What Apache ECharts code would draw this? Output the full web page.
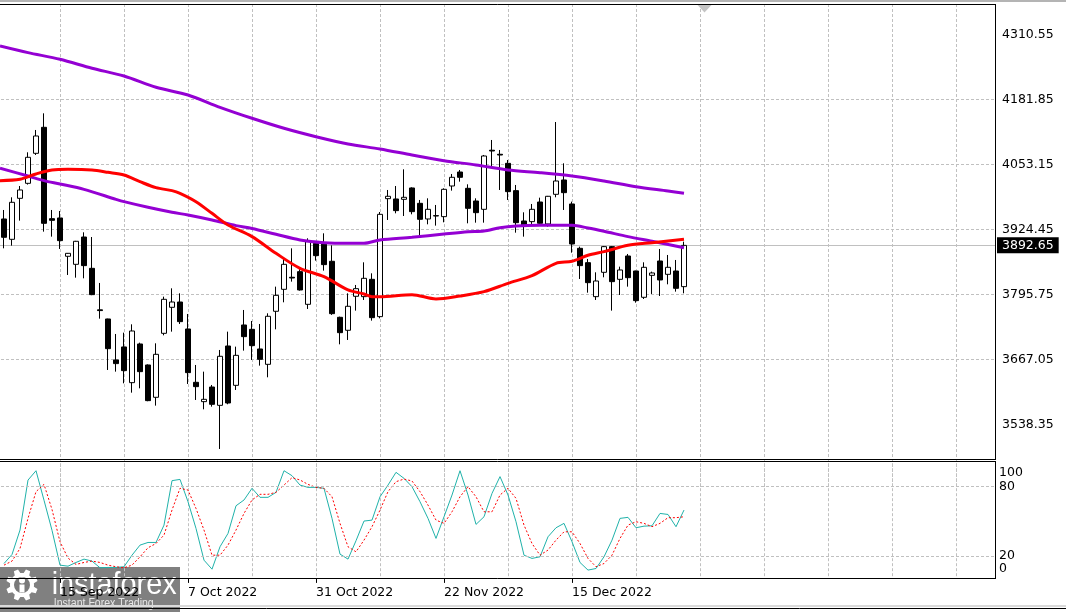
<!DOCTYPE html>
<html><head><meta charset="utf-8">
<script src="https://cdn.jsdelivr.net/npm/echarts@6.0.0/dist/echarts.min.js"></script>
<style>html,body{margin:0;padding:0;background:#fff;overflow:hidden}#c{width:1066px;height:612px}</style>
</head><body><div id="c"></div>
<script>
// ---- data ----
const openP  = [3944.9,3904.6,3985.8,4015.5,4074.9,4126.4,3945.5,3946.9,3871.0,3855.1,3909.2,3847.2,3765.0,3746.9,3665.7,3691.5,3620.8,3697.4,3655.8,3591.8,3718.5,3770.0,3780.5,3727.1,3621.5,3583.2,3612.2,3575.9,3693.4,3615.5,3735.0,3726.4,3687.5,3657.1,3762.1,3805.6,3829.5,3840.6,3775.9,3896.7,3895.4,3861.1,3750.2,3724.5,3791.8,3791.1,3825.4,3751.5,3985.1,3984.5,3983.8,4006.3,3975.9,3944.9,3951.5,3949.5,4010.2,4037.9,4005.6,3980.5,3964.0,4081.0,4073.0,4055.1,4001.0,3940.9,3939.6,3978.5,3935.0,3993.7,4022.1,3974.6,3886.8,3858.4,3791.1,3839.3,3890.1,3825.4,3871.6,3841.9,3789.8,3833.3,3861.7,3835.3,3841.9,3810.9];
const highP  = [3962.7,3987.8,4010.2,4076.9,4121.1,4154.1,3962.7,3960.7,3877.5,3901.5,3918.5,3909.2,3818.2,3747.5,3717.2,3719.8,3736.3,3700.0,3657.0,3698.7,3791.1,3807.6,3797.7,3756.8,3655.8,3642.6,3616.2,3685.5,3721.8,3692.1,3764.7,3742.9,3737.0,3758.1,3810.9,3867.0,3886.8,3847.2,3906.6,3900.0,3916.5,3892.7,3751.5,3797.7,3814.2,3859.1,3837.3,3958.7,4002.3,4010.2,4043.2,4007.6,3982.5,3985.8,3972.6,4005.6,4034.0,4041.9,4013.5,3985.8,4071.6,4101.3,4081.5,4061.7,4012.2,3958.1,3974.6,3987.1,3990.5,4136.9,4055.1,3979.2,3890.1,3865.7,3839.3,3891.4,3891.4,3850.5,3875.6,3842.5,3859.1,3840.6,3885.5,3873.6,3863.7,3900.0];
const lowP   = [3886.8,3892.1,3941.6,4013.0,4071.6,3919.8,3909.9,3885.5,3834.0,3828.7,3827.4,3794.0,3747.5,3645.9,3642.6,3619.5,3601.0,3609.6,3584.0,3575.3,3714.5,3721.8,3737.0,3618.2,3586.5,3568.0,3573.3,3489.5,3578.0,3606.3,3684.2,3665.7,3654.5,3631.4,3726.4,3779.9,3820.8,3803.0,3766.7,3862.4,3842.6,3755.0,3696.7,3705.3,3763.4,3784.5,3743.6,3748.2,3942.9,3956.1,3950.8,3954.1,3913.2,3934.3,3931.7,3938.3,4001.0,4018.8,3936.3,3937.6,3937.6,4048.5,4002.3,3982.5,3917.8,3909.9,3935.0,3935.0,3929.7,3987.8,3962.7,3878.2,3826.1,3799.0,3784.5,3829.4,3763.4,3794.4,3810.9,3779.2,3786.5,3796.4,3792.4,3815.5,3801.0,3797.7];
const closeP = [3908.6,3977.9,4002.3,4067.0,4109.2,3936.3,3942.2,3902.0,3876.9,3900.7,3852.5,3795.1,3763.5,3688.1,3658.5,3644.6,3723.1,3642.6,3585.2,3676.9,3785.8,3780.5,3741.6,3640.6,3612.9,3587.8,3577.9,3673.0,3580.5,3674.9,3711.9,3694.1,3667.0,3752.2,3793.7,3855.1,3828.0,3804.3,3900.0,3872.3,3854.5,3757.4,3719.8,3772.0,3806.9,3827.4,3749.5,3954.1,3989.8,3961.4,3987.8,3959.4,3944.2,3964.0,3950.8,4003.6,4027.4,4027.4,3966.0,3957.4,4069.6,4079.5,4071.5,3999.0,3937.6,3932.3,3964.0,3936.3,3989.8,4020.1,3997.0,3895.4,3852.5,3818.8,3822.1,3890.1,3820.8,3843.9,3828.7,3783.2,3849.2,3838.0,3824.1,3849.2,3807.6,3892.65];

const ma200Bars = [-0.5,3,7,11,15,19,23,27,31,35,39,43,47,51,55,59,63,67,71,75,79,83,85];
const ma200Vals = [4287.4,4274.2,4261.1,4243.3,4228.0,4205.6,4190.4,4166.0,4144.3,4124.5,4107.8,4093.4,4083.5,4071.6,4060.3,4051.8,4041.9,4036.6,4030.0,4020.1,4008.8,4000.3,3995.8];
const ma100Bars = [-0.5,3,5,7,10,14,15,18,21,23,26,29,31,34,37,40,43,45,47,51,55,58,60,62,64,67,71,73,75,78,81,85];
const ma100Vals = [4045.2,4030.0,4020.8,4014.2,4003.6,3983.8,3979.2,3968.0,3958.1,3952.8,3942.9,3931.7,3926.0,3914.5,3903.3,3898.0,3896.7,3896.7,3903.3,3908.6,3915.2,3919.8,3921.1,3927.7,3931.0,3932.3,3932.3,3927.0,3920.5,3909.9,3900.7,3888.1];
const ma50Bars  = [-0.5,2,4,6,8,11,13,15,17,19,21,22,24,26,28,31,34,37,40,43,45,46,47,51,54,57,60,63,66,69,71,73,75,78,81,85];
const ma50Vals  = [4020.8,4023.4,4034.0,4041.9,4043.2,4041.9,4037.3,4032.0,4018.8,4006.9,4001.0,3995.7,3979.2,3956.1,3933.0,3909.9,3876.9,3847.2,3830.7,3804.3,3796.4,3791.1,3791.1,3795.1,3786.5,3792.4,3801.0,3817.5,3832.7,3857.1,3861.1,3873.0,3880.2,3892.7,3898.0,3904.6];

const stochMain   = [13.3,21.1,42.2,85.4,93.5,68,42,11.9,11,14.2,17.1,15.4,9.6,9.9,9.9,10.5,20.5,29.2,31.5,31.5,46.5,84.9,86,66.7,43.6,16.2,8.4,27.8,39.3,63.2,68.2,78.3,70.5,70.5,74.8,93.5,89.2,81.1,79.1,79.1,78.3,52.3,21.4,17.1,33,50,50.8,71,81.1,92.1,86.9,79.7,66.7,52.3,35,53.7,72.5,93.5,72.5,47.1,53.7,73.9,88.4,72.5,49.4,20.5,17.7,19.1,36.4,44.2,48,32.1,14.2,7.6,9,19.1,33.5,52.3,53.2,44.2,45.6,45.9,56.6,55.7,45.1,59.5];
const stochSignal = [11.9,15.4,26.3,52.3,75.4,81.7,60,32.1,18,12.5,14.2,15.4,14.2,11.9,10.5,9.6,11.9,19.1,26.9,30.6,37.9,59.5,78.3,76.8,60.9,42.2,20.5,20.5,29.2,42.2,56.6,68.2,73.1,73.1,74.8,81.1,87.5,85.5,81.7,79.1,78.3,71,48,27.8,23.4,33.5,45.1,59.5,75.4,84,86.3,84.6,75.4,63.8,50.8,48,58,71,79.7,71,58,58,72.5,78.3,69.6,46.5,30.6,20.5,24.9,33.5,40.7,40.7,30.6,17.7,10.5,13.3,20.5,35,46.5,49.4,48,45.1,48,52.9,52.9,53.7];

const priceTicks   = [3538.35,3667.05,3795.75,3924.45,4053.15,4181.85,4310.55];
const stochTicks   = [0,20,80,100];
const dateTickBars = [7,23,39,55,71];
const dateTicks    = ['15 Sep 2022','7 Oct 2022','31 Oct 2022','22 Nov 2022','15 Dec 2022'];

// ---- build ----
const X = i => i + 1;               // x value of bar i
const candles = openP.map((o,i)=>[X(i), o, closeP[i], lowP[i], highP[i]]);
const pairs = (b,v) => b.map((bi,k)=>[X(bi), v[k]]);
const lastClose = closeP[closeP.length-1];
const priceStep = +(priceTicks[1]-priceTicks[0]).toFixed(2);
const priceMin = +(priceTicks[0]-priceStep).toFixed(2);
const priceMax = 4370.54;
const FONT = 'DejaVu Sans';
const GRID = {color:'#c0c0c0', type:[3,2], width:1};
const dateMap = {}; dateTickBars.forEach((b,k)=>dateMap[X(b)] = dateTicks[k]);

function gearPoints(cx, cy, R, r, n){
  const pts=[];
  for(let k=0;k<n;k++){
    const a0 = (k/n)*Math.PI*2, w = Math.PI*2/n;
    const a = [a0, a0+w*0.18, a0+w*0.32, a0+w*0.68, a0+w*0.82];
    pts.push([cx+r*Math.cos(a[0]), cy+r*Math.sin(a[0])]);
    pts.push([cx+r*Math.cos(a[1]), cy+r*Math.sin(a[1])]);
    pts.push([cx+R*Math.cos(a[2]), cy+R*Math.sin(a[2])]);
    pts.push([cx+R*Math.cos(a[3]), cy+R*Math.sin(a[3])]);
    pts.push([cx+r*Math.cos(a[4]), cy+r*Math.sin(a[4])]);
  }
  return pts;
}
const line = (x1,y1,x2,y2,c,w)=>({type:'line', silent:true, z:50, shape:{x1,y1,x2,y2}, style:{stroke:c||'#000', lineWidth:w||1}});

const chart = echarts.init(document.getElementById('c'), null, {renderer:'canvas'});
chart.setOption({
  animation:false,
  backgroundColor:'#ffffff',
  grid:[
    {left:-4, top:4, width:999, height:485.3, containLabel:false, outerBoundsMode:'none'},
    {left:-4, top:463.2, width:999, height:115.7, containLabel:false, outerBoundsMode:'none'}
  ],
  xAxis:[
    {gridIndex:0, type:'value', min:0, max:124.875, interval:8,
     axisLine:{show:false}, axisTick:{show:false}, axisLabel:{show:false},
     splitLine:{show:true, showMinLine:false, showMaxLine:false, lineStyle:GRID}},
    {gridIndex:1, type:'value', position:'bottom', min:0, max:124.875, interval:8,
     axisLine:{show:false},
     axisTick:{show:true, customValues:dateTickBars.map(X), length:4, lineStyle:{color:'#000'}},
     axisLabel:{show:true, customValues:dateTickBars.map(X), formatter:v=>dateMap[Math.round(v)]||'', align:'left', margin:7, color:'#000', fontSize:12.5, fontFamily:FONT},
     splitLine:{show:false}},
    {gridIndex:1, type:'value', position:'top', min:0, max:124.875, interval:8,
     axisLine:{show:false}, axisTick:{show:false}, axisLabel:{show:false},
     splitLine:{show:true, showMinLine:false, showMaxLine:false, lineStyle:GRID}}
  ],
  yAxis:[
    {gridIndex:0, type:'value', position:'right', min:priceMin, max:priceMax, interval:priceStep,
     axisLine:{show:false},
     axisTick:{show:true, customValues:priceTicks, length:3, lineStyle:{color:'#000'}},
     axisLabel:{show:true, margin:7, color:'#000', fontSize:12.5, fontFamily:FONT, showMinLabel:false, showMaxLabel:false,
       formatter:v=>{ const t = priceTicks.find(p=>Math.abs(p-v)<0.05); return t===undefined?'':t.toFixed(2);} },
     splitLine:{show:true, showMinLine:false, showMaxLine:false, lineStyle:GRID}},
    {gridIndex:1, type:'value', position:'right', min:0, max:100, interval:20,
     axisLine:{show:false},
     axisTick:{show:true, customValues:stochTicks, length:3, lineStyle:{color:'#000'}},
     axisLabel:{show:true, margin:4, color:'#000', fontSize:12.5, fontFamily:FONT,
       formatter:v=>{ if(!stochTicks.includes(Math.round(v))) return ''; if(v>=100) return '{dn|100}'; if(v<=0) return '{up|0}'; return String(Math.round(v)); },
       rich:{dn:{padding:[20,0,0,0], fontSize:12.5, fontFamily:FONT, color:'#000'}, up:{padding:[0,0,20,0], fontSize:12.5, fontFamily:FONT, color:'#000'}}},
     splitLine:{show:false}}
  ],
  series:[
    {type:'candlestick', name:'price', xAxisIndex:0, yAxisIndex:0, data:candles, barWidth:5, z:2,
     itemStyle:{color:'#ffffff', color0:'#000000', borderColor:'#000000', borderColor0:'#000000', borderWidth:1},
     markLine:{silent:true, symbol:['none','none'], animation:false, z:1,
       lineStyle:{color:'#c0c0c0', type:'solid', width:1},
       label:{show:true, position:'end', distance:2, formatter:()=>lastClose.toFixed(2), color:'#fff', backgroundColor:'#000', padding:[2,5,1,5], fontSize:12.5, fontFamily:FONT},
       data:[{yAxis:lastClose}]}},
    {type:'line', name:'MA200', xAxisIndex:0, yAxisIndex:0, data:pairs(ma200Bars,ma200Vals), showSymbol:false, smooth:0.3, z:3, lineStyle:{color:'#9400D3', width:3}},
    {type:'line', name:'MA100', xAxisIndex:0, yAxisIndex:0, data:pairs(ma100Bars,ma100Vals), showSymbol:false, smooth:0.3, z:3, lineStyle:{color:'#9400D3', width:3}},
    {type:'line', name:'MA50', xAxisIndex:0, yAxisIndex:0, data:pairs(ma50Bars,ma50Vals), showSymbol:false, smooth:0.3, z:3, lineStyle:{color:'#FF0000', width:3}},
    {type:'line', name:'%K', xAxisIndex:1, yAxisIndex:1, data:stochMain.map((v,i)=>[X(i),v]), showSymbol:false, z:3, lineStyle:{color:'#20B2AA', width:1},
     markLine:{silent:true, symbol:['none','none'], animation:false, label:{show:false}, lineStyle:GRID, data:[{yAxis:20},{yAxis:80}]}},
    {type:'line', name:'%D', xAxisIndex:1, yAxisIndex:1, data:stochSignal.map((v,i)=>[X(i),v]), showSymbol:false, z:3, lineStyle:{color:'#FF0000', width:1, type:[2,2]}}
  ],
  graphic:[
    {type:'rect', silent:true, z:50, shape:{x:0,y:0,width:1066,height:2}, style:{fill:'#b4b4b4'}},
    line(0,4.5,995.5,4.5), line(995.5,4,995.5,460), line(0,459.5,995.5,459.5),
    line(0,461.5,995.5,461.5), line(995.5,461,995.5,579), line(0,578.5,995.5,578.5),
    {type:'polygon', silent:true, z:50, shape:{points:[[697.5,5],[711.5,5],[704.5,12.5]]}, style:{fill:'#c4c4c4'}},
    {type:'rect', silent:true, z:50, shape:{x:0,y:605,width:1066,height:2}, style:{fill:'#dadada'}},
    line(0,608.5,1066,608.5,'#000',1),
    {type:'group', silent:true, z:100, children:[
      {type:'rect', shape:{x:0,y:567,width:180,height:45}, style:{fill:'rgba(100,100,100,0.82)'}},
      {type:'polygon', shape:{points:gearPoints(22,585,16,12,8)}, style:{fill:'#ffffff'}},
      {type:'circle', shape:{cx:22,cy:585,r:8}, style:{fill:'#7a7a7a'}},
      {type:'circle', shape:{cx:22,cy:580.5,r:3}, style:{fill:'#ffffff'}},
      {type:'rect', shape:{x:19.5,y:584.5,width:5,height:8}, style:{fill:'#ffffff'}},
      {type:'text', x:47, y:585, scaleX:0.9, originX:47, style:{text:'instaforex', fill:'#ffffff', font:'32px "Liberation Sans"', verticalAlign:'middle', align:'left'}},
      {type:'text', x:48, y:603.5, scaleX:0.88, originX:48, style:{text:'Instant Forex Trading', fill:'#e6e6e6', font:'12px "Liberation Sans"', verticalAlign:'middle', align:'left'}}
    ]}
  ]
});
</script>
</body></html>
